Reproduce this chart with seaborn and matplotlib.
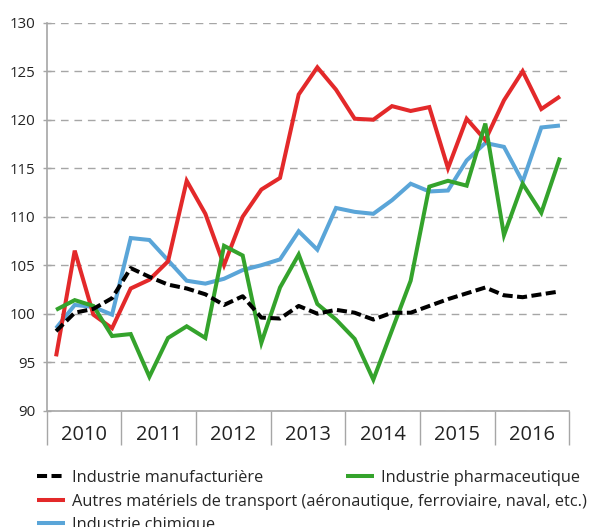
import matplotlib
matplotlib.use("Agg")
import matplotlib.pyplot as plt
import numpy as np
import pandas as pd
import seaborn as sns

# quarterly index values, 2010 Q1 -> 2016 Q4
years = [2010, 2011, 2012, 2013, 2014, 2015, 2016]
manufacturiere = [98.2, 100.1, 100.5, 101.6, 104.7, 103.8, 103.0, 102.6,
                  102.0, 100.9, 101.8, 99.6, 99.5, 100.8, 100.0, 100.4,
                  100.1, 99.4, 100.1, 100.1, 100.8, 101.5, 102.1, 102.7,
                  101.9, 101.7, 102.0, 102.3]
pharmaceutique = [100.4, 101.4, 100.8, 97.7, 97.9, 93.5, 97.5, 98.7,
                  97.5, 107.0, 106.0, 97.0, 102.7, 106.1, 101.0, 99.4,
                  97.4, 93.2, 98.3, 103.4, 113.1, 113.7, 113.2, 119.6,
                  108.1, 113.4, 110.4, 116.1]
transport = [95.6, 106.5, 99.9, 98.5, 102.6, 103.5, 105.4, 113.7,
             110.3, 105.0, 110.0, 112.8, 114.0, 122.6, 125.4, 123.1,
             120.1, 120.0, 121.4, 120.9, 121.3, 115.0, 120.1, 117.9,
             122.0, 125.0, 121.1, 122.4]
chimique = [98.5, 100.9, 100.7, 99.9, 107.8, 107.6, 105.5, 103.4,
            103.1, 103.6, 104.5, 105.0, 105.6, 108.5, 106.6, 110.9,
            110.5, 110.3, 111.7, 113.4, 112.6, 112.7, 115.8, 117.6,
            117.2, 113.6, 119.2, 119.4]

sns.set_style("white")
plt.rcParams["font.family"] = ["Open Sans", "DejaVu Sans"]

grey = "#a6a6a6"
fig = plt.figure(figsize=(5.96, 5.27), dpi=100)
ax = fig.add_axes([0.0784, 0.2207, 0.8768, 0.7362])

pos = np.arange(len(manufacturiere)) + 0.5
df = pd.DataFrame({"pos": pos, "manuf": manufacturiere, "pharma": pharmaceutique,
                   "transport": transport, "chimie": chimique})

lw = 2.9
sns.lineplot(data=df, x="pos", y="chimie", ax=ax, color="#5aa5d8", lw=lw,
             label="Industrie chimique", legend=False, zorder=3)
sns.lineplot(data=df, x="pos", y="transport", ax=ax, color="#e3292a", lw=lw,
             label="Autres matériels de transport (aéronautique, ferroviaire, naval, etc.)",
             legend=False, zorder=4)
sns.lineplot(data=df, x="pos", y="pharma", ax=ax, color="#34a32c", lw=lw,
             label="Industrie pharmaceutique", legend=False, zorder=5)
sns.lineplot(data=df, x="pos", y="manuf", ax=ax, color="black", lw=lw,
             label="Industrie manufacturière", legend=False, zorder=6)
lines = ax.get_lines()
lines[3].set_dashes((2.5, 1.1))
lines[3].set_dash_capstyle("butt")
for ln in lines:
    ln.set_solid_capstyle("butt")
    ln.set_solid_joinstyle("miter")

ax.set_xlim(0, len(manufacturiere))
ax.set_ylim(90, 130)
ax.set_xlabel("")
ax.set_ylabel("")

ax.set_yticks(np.arange(90, 131, 5))
ax.yaxis.grid(True, color=grey, lw=1.0, linestyle=(0, (5.5, 4.2)))
ax.xaxis.grid(False)
ax.set_axisbelow(True)
ax.tick_params(axis="y", direction="inout", length=6, width=1.0, color=grey,
               pad=5, labelsize=10.8, labelcolor="#222222", left=True)

ax.set_xticks(np.arange(0, len(manufacturiere) + 1, 4))
ax.set_xticklabels([])
ax.set_xticks(np.arange(2, len(manufacturiere), 4), minor=True)
ax.set_xticklabels([str(y) for y in years], minor=True)
ax.tick_params(axis="x", which="major", direction="out", length=24.2, width=1.0,
               color=grey, bottom=True)
ax.tick_params(axis="x", which="minor", length=0, pad=10, labelsize=14.4,
               labelcolor="#222222")

for side in ["top", "right"]:
    ax.spines[side].set_visible(False)
for side in ["left", "bottom"]:
    ax.spines[side].set_color(grey)
    ax.spines[side].set_linewidth(1.2)

leg_kw = dict(loc="upper left", frameon=False, fontsize=11.8, borderpad=0,
              borderaxespad=0, handlelength=1.73, handletextpad=0.41,
              labelspacing=0.46)
order = [lines[3], lines[1], lines[0]]
fig.legend(handles=order, labels=[ln.get_label() for ln in order],
           bbox_to_anchor=(36.7 / 596, 1 - 470 / 527), **leg_kw)
fig.legend(handles=[lines[2]], labels=[lines[2].get_label()],
           bbox_to_anchor=(346 / 596, 1 - 470 / 527), **leg_kw)

fig.savefig("out.png", dpi=100)
